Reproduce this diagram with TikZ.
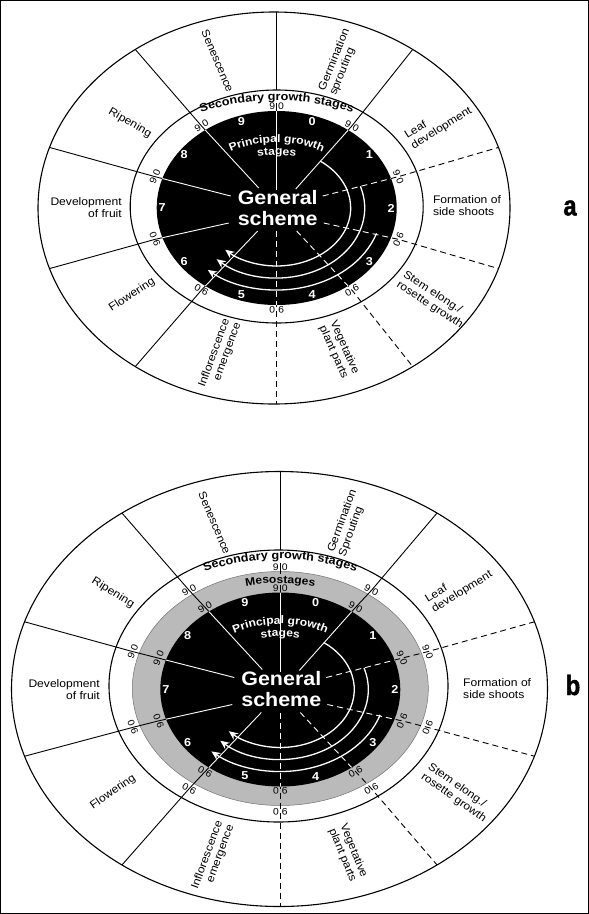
\documentclass[tikz,border=0pt]{standalone}
\usepackage{fontspec}
\setmainfont{Liberation Sans}[FakeStretch=1.1]
\newfontfamily\labfont{Liberation Sans}[FakeStretch=0.85,FakeBold=1.5]
\usetikzlibrary{decorations.text,arrows.meta}
\newcommand\sgf{\fontsize{11.5}{12}\selectfont\bfseries}
\newcommand\prgf{\fontsize{11}{12}\selectfont\bfseries}
\tikzset{
  ringline/.style={line width=1.1pt},
  bline/.style={line width=0.9pt},
  dsh/.style={dash pattern=on 6pt off 4pt},
  wline/.style={white,line width=0.9pt},
  tl/.style={font=\fontsize{9.5}{10}\selectfont, inner sep=0pt},
  num/.style={white,font=\fontsize{11.5}{12}\selectfont\bfseries, inner sep=0pt},
  lab/.style={font=\fontsize{11}{12}\selectfont, inner sep=0pt},
  gen/.style={white,font=\fontsize{19.5}{21}\selectfont\bfseries, inner sep=0pt, anchor=base},
  warc/.style={white,line width=1.3pt,-{Stealth[length=9pt,width=8pt]}},
  panel/.style={font=\labfont\fontsize{28}{28}\selectfont\bfseries, inner sep=0pt}
}
\begin{document}
\begin{tikzpicture}[x=1pt,y=1pt]
\useasboundingbox (0,0) rectangle (589,-914);
\fill[white] (0,0) rectangle (589,-914);
\draw[line width=1pt] (0.5,-0.5) rectangle (588.5,-913.5);

% ================= diagram a =================
\begin{scope}[shift={(276.7,-208)}]
  \draw[ringline] (-2.7,0) ellipse [x radius=236, y radius=196];
  \draw[ringline] (0,1.5) ellipse [x radius=146.5, y radius=116.5];
  \foreach \t/\ix/\iy/\st in {54/19/19/solid, 18/46/12/dsh, -18/47/-15/dsh, -54/20/-23/dsh,
      -126/-19/-23/solid, -162/-48/-15/solid, 162/-46/12/solid, 126/-18/20/solid}
    \draw[bline,\st] (\ix,\iy) -- (\t:128 and 101.5) -- ({-2.7+236*cos(\t)},{196*sin(\t)});
  \draw[bline] (0,196) -- (0,118);
  \draw[bline] (0,105) -- (0,18);
  \draw[bline,dsh] (0,-23) -- (0,-196);
  \foreach \t [count=\i] in {90,54,18,-18,-54,-90,-126,-162,162,126}
    \node[tl, rotate={atan2(-101.5*cos(\t),128*sin(\t))}] (a-t\i) at (\t:128 and 101.5) {9\hspace{3pt}0};
  \fill (0,0) ellipse [x radius=120, y radius=97];
  \begin{scope}
    \clip (0,0) ellipse [x radius=120, y radius=97];
    \foreach \t/\ix/\iy/\st in {54/19/19/solid, 18/46/12/dsh, -18/47/-15/dsh, -54/20/-23/dsh,
        -126/-19/-23/solid, -162/-48/-15/solid, 162/-46/12/solid, 126/-18/20/solid}
      \draw[wline,\st] (\ix,\iy) -- (\t:128 and 101.5);
    \draw[wline] (0,18) -- (0,106);
    \draw[wline,dsh] (0,-23) -- (0,-106);
  \end{scope}
  \draw[warc] (54:74 and 58) arc[start angle=54,end angle=-134,x radius=74,y radius=58];
  \draw[warc] (18:88 and 70) arc[start angle=18,end angle=-133,x radius=88,y radius=70];
  \draw[warc] (-18:105 and 82) arc[start angle=-18,end angle=-131,x radius=105,y radius=82];
  \foreach \n in {0,...,9}
    \node[num] (a-n\n) at ({72-36*\n}:114.5 and 91) {\n};
  \node[gen] (a-gen1) at (1,4) {General};
  \node[gen] (a-gen2) at (1,-17) {scheme};
  \path[decorate,decoration={text along path,text align=center,text color=white,
      text={|\prgf|Principal growth}}]
    (160:90 and 65.5) arc[start angle=160,end angle=20,x radius=90,y radius=65.5];
  \path[decorate,decoration={text along path,text align=center,text color=white,
      text={|\prgf|stages}}]
    (150:75 and 53) arc[start angle=150,end angle=30,x radius=75,y radius=53];
  \path[decorate,decoration={text along path,text align=center,
      text={|\sgf|Secondary growth stages}}]
    (150:165 and 107.5) arc[start angle=150,end angle=30,x radius=165,y radius=107.5];
\end{scope}

\node[lab,rotate=-67] (a-sen) at (217.5,-61) {Senescence};
\node[lab,rotate=68,align=left] (a-ger) at (340,-62) {Germination\\sprouting};
\node[lab,rotate=32,align=left] (a-leaf) at (438.5,-123.3) {Leaf\\development};
\node[lab,anchor=west,align=left] (a-form) at (432.8,-206) {Formation of\\side shoots};
\node[lab,rotate=-33,align=left] (a-stem) at (433,-300) {Stem elong./\\rosette growth};
\node[lab,rotate=-66,align=left] (a-veg) at (339,-350) {Vegetative\\plant parts};
\node[lab,rotate=70,align=right] (a-inf) at (220,-355) {Inflorescence\\emergence};
\node[lab,rotate=33] (a-flo) at (132,-295) {Flowering};
\node[lab,anchor=east,align=right] (a-dev) at (122,-208) {Development\\of fruit};
\node[lab,rotate=-30] (a-rip) at (130,-123) {Ripening};
\node[panel] (pa) at (570,-208) {a};

% ================= diagram b =================
\begin{scope}[shift={(280.3,-689.5)}]
  \draw[ringline] (-0.8,0.5) ellipse [x radius=268, y radius=217.5];
  \draw[ringline] (-1.8,3.5) ellipse [x radius=169.5, y radius=136];
  \filldraw[fill=black!27, draw=black!55, line width=0.5pt] (0,1) ellipse [x radius=148, y radius=117];
  \foreach \t/\ix/\iy/\st in {54/19/19/solid, 18/46/12/dsh, -18/47/-15/dsh, -54/20/-23/dsh,
      -126/-19/-23/solid, -162/-48/-15/solid, 162/-46/12/solid, 126/-18/20/solid}
    \draw[bline,\st] (\ix,\iy) -- (\t:128 and 101.5) -- (\t:155 and 122.5) -- ({-0.8+268*cos(\t)},{0.5+217.5*sin(\t)});
  \draw[bline] (0,218) -- (0,139.5);
  \draw[bline] (0,127) -- (0,116);
  \draw[bline] (0,105) -- (0,18);
  \draw[bline,dsh] (0,-23) -- (0,-217);
  \foreach \t [count=\i] in {90,54,18,-18,-54,-90,-126,-162,162,126}{
    \node[tl, rotate={atan2(-101.5*cos(\t),128*sin(\t))}] (b-m\i) at (\t:128 and 101.5) {9\hspace{3pt}0};
    \node[tl, rotate={atan2(-122.5*cos(\t),155*sin(\t))}] (b-s\i) at (\t:155 and 122.5) {9\hspace{3pt}0};
  }
  \fill (0,0) ellipse [x radius=120, y radius=97];
  \begin{scope}
    \clip (0,0) ellipse [x radius=120, y radius=97];
    \foreach \t/\ix/\iy/\st in {54/19/19/solid, 18/46/12/dsh, -18/47/-15/dsh, -54/20/-23/dsh,
        -126/-19/-23/solid, -162/-48/-15/solid, 162/-46/12/solid, 126/-18/20/solid}
      \draw[wline,\st] (\ix,\iy) -- (\t:128 and 101.5);
    \draw[wline] (0,18) -- (0,106);
    \draw[wline,dsh] (0,-23) -- (0,-106);
  \end{scope}
  \draw[warc] (54:74 and 58) arc[start angle=54,end angle=-134,x radius=74,y radius=58];
  \draw[warc] (18:88 and 70) arc[start angle=18,end angle=-133,x radius=88,y radius=70];
  \draw[warc] (-18:105 and 82) arc[start angle=-18,end angle=-131,x radius=105,y radius=82];
  \foreach \n in {0,...,9}
    \node[num] (b-n\n) at ({72-36*\n}:114.5 and 91) {\n};
  \node[gen] (b-gen1) at (1,4) {General};
  \node[gen] (b-gen2) at (1,-17) {scheme};
  \path[decorate,decoration={text along path,text align=center,text color=white,
      text={|\prgf|Principal growth}}]
    (160:90 and 65.5) arc[start angle=160,end angle=20,x radius=90,y radius=65.5];
  \path[decorate,decoration={text along path,text align=center,text color=white,
      text={|\prgf|stages}}]
    (150:75 and 53) arc[start angle=150,end angle=30,x radius=75,y radius=53];
  \path[decorate,decoration={text along path,text align=center,
      text={|\prgf|Mesostages}}]
    (150:140 and 106.5) arc[start angle=150,end angle=30,x radius=140,y radius=106.5];
  \path[decorate,decoration={text along path,text align=center,
      text={|\sgf|Secondary growth stages}}]
    (150:176 and 130.5) arc[start angle=150,end angle=30,x radius=176,y radius=130.5];
\end{scope}

\node[lab,rotate=-67] (b-sen) at (214.5,-523) {Senescence};
\node[lab,rotate=70,align=left] (b-ger) at (348,-523) {Germination\\Sprouting};
\node[lab,rotate=32,align=left] (b-leaf) at (459,-587) {Leaf\\development};
\node[lab,anchor=west,align=left] (b-form) at (463,-689) {Formation of\\side shoots};
\node[lab,rotate=-35,align=left] (b-stem) at (457,-793) {Stem elong./\\rosette growth};
\node[lab,rotate=-68,align=left] (b-veg) at (348,-853) {Vegetative\\plant parts};
\node[lab,rotate=70,align=right] (b-inf) at (213,-857) {Inflorescence\\emergence};
\node[lab,rotate=35] (b-flo) at (113,-792) {Flowering};
\node[lab,anchor=east,align=right] (b-dev) at (100,-690) {Development\\of fruit};
\node[lab,rotate=-32] (b-rip) at (113,-593) {Ripening};
\node[panel] (pb) at (573,-685) {b};
\end{tikzpicture}
\end{document}
